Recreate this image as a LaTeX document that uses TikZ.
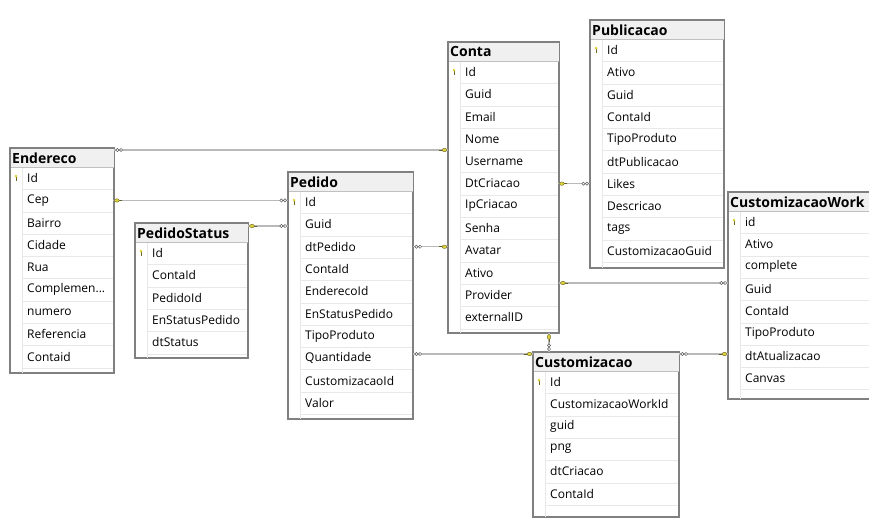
\documentclass[tikz,border=0pt]{standalone}
\usepackage{fontspec}
\setmainfont{Open Sans}
\usetikzlibrary{calc}
\usetikzlibrary{decorations.markings}

\definecolor{borda}{RGB}{128,128,128}
\definecolor{linha}{RGB}{232,232,232}
\definecolor{chave}{RGB}{222,210,60}

\tikzset{
  caixa/.style={draw=borda,line width=1.4pt,fill=white,inner sep=0pt},
  titulo/.style={anchor=west,inner xsep=2pt,font=\fontsize{14}{16}\selectfont\bfseries},
  campo/.style={anchor=west,inner xsep=5pt,inner ysep=0pt,minimum height=22.3pt,font=\fontsize{12}{14}\selectfont},
  rel/.style={draw=gray!55,line width=1.2pt,postaction={decorate},decoration={markings,
    mark=at position 0 with {\filldraw[draw=gray!70!black,fill=white,line width=0.5pt] (3pt,0) circle (1.6pt) (6.6pt,0) circle (1.6pt);},
    mark=at position 1 with {\draw[olive!60!black,line width=0.7pt] (-9pt,0) -- (-4pt,0);
      \filldraw[draw=olive!70!black,fill=chave,line width=0.4pt] (-3.5pt,0) ellipse (2.4pt and 1.7pt);}}}
}

% nome, x, topo, largura, base, titulo, campos
\newcommand{\tabela}[7]{%
  \node[caixa,anchor=north west,minimum width=#4pt,minimum height={(#5-#3)*1pt}] (#1) at (#2,#3) {};
  \fill[gray!12] (#1.north west) rectangle ([yshift=-19pt]#1.north east);
  \node[titulo] (#1-t) at ([yshift=-10pt]#1.north west) {#6};
  \draw[linha] ([xshift=12pt,yshift=-19pt]#1.north west) -- ([xshift=12pt]#1.south west);
  \foreach \campo [count=\i] in {#7} {
    \node[campo,text width={(#4-22)*1pt}] (#1-\i) at ($(#1.north west)+(12,{19+(\i-0.5)*22.3})$) {\campo};
    \draw[linha] (#1-\i.south west) -- (#1-\i.south east);
  }
  \draw[borda!50,line width=0.6pt] ([yshift=-19pt]#1.north west) -- ([yshift=-19pt]#1.north east);
  \draw[caixa,fill=none] (#1.north west) rectangle (#1.south east);
  % chave primaria
  \draw[olive!70!black,line width=0.6pt] ($(#1-1.west)+(-6,-2)$) -- ($(#1-1.west)+(-6,3)$);
  \fill[chave] ($(#1-1.west)+(-6,-2)$) circle (1.5pt);
}

\begin{document}
\begin{tikzpicture}[x=1pt,y=-1pt]
\useasboundingbox (0,0) rectangle (869,526);

\tabela{endereco}{10}{148}{103}{372}{Endereco}{Id,Cep,Bairro,Cidade,Rua,Complemen.{}.{}.,numero,Referencia,Contaid}
\tabela{pstatus}{135}{223}{112}{357}{PedidoStatus}{Id,ContaId,PedidoId,EnStatusPedido,dtStatus}
\tabela{pedido}{288}{172}{124}{418}{Pedido}{Id,Guid,dtPedido,ContaId,EnderecoId,EnStatusPedido,TipoProduto,Quantidade,CustomizacaoId,Valor}
\tabela{conta}{448}{42}{110}{332}{Conta}{Id,Guid,Email,Nome,Username,DtCriacao,IpCriacao,Senha,Avatar,Ativo,Provider,externalID}
\tabela{publicacao}{590}{20}{133}{267}{Publicacao}{Id,Ativo,Guid,ContaId,TipoProduto,dtPublicacao,Likes,Descricao,tags,CustomizacaoGuid}
\tabela{custom}{533}{352}{145}{516}{Customizacao}{Id,CustomizacaoWorkId,guid,png,dtCriacao,ContaId}
\tabela{cwork}{728}{192}{160}{398}{CustomizacaoWork}{id,Ativo,complete,Guid,ContaId,TipoProduto,dtAtualizacao,Canvas}

% relacionamentos (muitos -> um)
\draw[rel] ([yshift=-2pt]endereco.north east) -- ([yshift=-2pt]endereco.north east -| conta.west);
\draw[rel] (endereco-2.east -| pedido.west) -- (endereco-2.east);
\draw[rel] ([yshift=-3pt]pstatus.north east -| pedido.west) -- ([yshift=-3pt]pstatus.north east);
\draw[rel] (pedido-3.east -| pedido.east) -- (pedido-3.east -| conta.west);
\draw[rel] ([yshift=-2pt]custom.north west -| pedido.east) -- ([yshift=-2pt]custom.north west);
\draw[rel] ([xshift=16pt]custom.north west) -- ([xshift=16pt]custom.north west |- conta.south);
\draw[rel] (conta-6.east -| publicacao.west) -- (conta-6.east);
\draw[rel] ([yshift=-91pt]cwork.north west) -- ([yshift=-91pt]cwork.north west -| conta.east);
\draw[rel] ([yshift=-2pt]custom.north east) -- ([yshift=-2pt]custom.north east -| cwork.west);
\end{tikzpicture}
\end{document}
